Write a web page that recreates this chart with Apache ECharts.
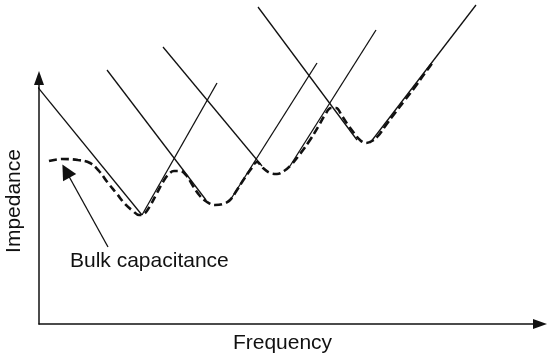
<!DOCTYPE html>
<html>
<head>
<meta charset="utf-8">
<script src="https://cdn.jsdelivr.net/npm/echarts@6/dist/echarts.min.js"></script>
<style>
  html, body { margin: 0; padding: 0; background: #fff; }
  #chart { width: 547px; height: 357px; }
</style>
</head>
<body>
<div id="chart"></div>
<script>
// arbitrary units: frequency along x, impedance along y
// each capacitor: falling (capacitive) and rising (inductive) asymptote [x0, y0, x1, y1]
var asymptotes = [
  [-8, 245, 103, 109],
  [103, 109, 178, 241],
  [68, 254, 167, 124],
  [190, 122, 278, 261],
  [124, 277, 223, 158],
  [251, 158, 337, 294],
  [219, 317, 318, 184],
  [331, 181, 437, 319]
];

// combined impedance (dashed)
var curveFreq = [10, 23, 39, 51, 60, 69, 78, 86, 94, 100, 105, 111, 118, 124, 129, 135, 141, 147, 154, 161,
  168, 176, 184, 191, 198, 205, 212, 218, 224, 231, 238, 245, 252, 261, 271, 279, 286, 292, 297, 303,
  309, 315, 321, 327, 333, 339, 347, 356, 366, 376, 386, 394];
var curveImp = [163, 165, 164, 161, 153, 141, 130, 120, 113, 109, 110, 118, 131, 142, 149, 153, 153, 149, 138, 128,
  122, 119, 120, 124, 134, 145, 155, 162, 156, 151, 150, 153, 159, 170, 184, 197, 209, 216, 216, 208,
  199, 191, 184, 181, 183, 188, 199, 211, 224, 237, 251, 262];

// annotation arrow: from label to the low-frequency plateau
var bulkArrow = [[69, 77], [27, 153]];

var font = 'Liberation Sans, Arial, Helvetica, sans-serif';
var ink = '#111';

var chart = echarts.init(document.getElementById('chart'));

var series = [];
asymptotes.forEach(function (s) {
  series.push({
    type: 'line',
    data: [[s[0], s[1]], [s[2], s[3]]],
    showSymbol: false,
    clip: false,
    silent: true,
    lineStyle: { color: ink, width: 1.3 },
    z: 2
  });
});

series.push({
  type: 'line',
  data: curveFreq.map(function (f, i) { return [f, curveImp[i]]; }),
  smooth: 0.4,
  showSymbol: false,
  clip: false,
  silent: true,
  lineStyle: { color: ink, width: 2.6, type: [8, 4] },
  z: 3
});

series.push({
  type: 'lines',
  coordinateSystem: 'cartesian2d',
  data: [{ coords: bulkArrow }],
  symbol: ['none', 'triangle'],
  symbolSize: [11, 15],
  silent: true,
  lineStyle: { color: ink, width: 1.3, opacity: 1 },
  z: 4
});

chart.setOption({
  animation: false,
  backgroundColor: '#fff',
  grid: { left: 39, top: 78, width: 501, height: 246, containLabel: false, outerBoundsMode: 'none' },
  xAxis: {
    type: 'value',
    min: 0,
    max: 501,
    name: 'Frequency',
    nameLocation: 'middle',
    nameGap: 9,
    nameTextStyle: { fontFamily: font, fontSize: 21, color: ink, padding: [0, 14, 0, 0] },
    axisLine: { show: true, symbol: ['none', 'triangle'], symbolSize: [10, 14], lineStyle: { color: ink, width: 1.5 } },
    axisTick: { show: false },
    axisLabel: { show: false },
    splitLine: { show: false }
  },
  yAxis: {
    type: 'value',
    min: 0,
    max: 246,
    name: 'Impedance',
    nameLocation: 'middle',
    nameGap: 14,
    nameRotate: 90,
    nameTextStyle: { fontFamily: font, fontSize: 21, color: ink },
    axisLine: { show: true, symbol: ['none', 'triangle'], symbolSize: [10, 14], lineStyle: { color: ink, width: 1.5 } },
    axisTick: { show: false },
    axisLabel: { show: false },
    splitLine: { show: false }
  },
  graphic: [{
    type: 'text',
    left: 70,
    top: 251,
    style: { text: 'Bulk capacitance', font: '21px ' + font, fill: ink }
  }],
  series: series
});
</script>
</body>
</html>
